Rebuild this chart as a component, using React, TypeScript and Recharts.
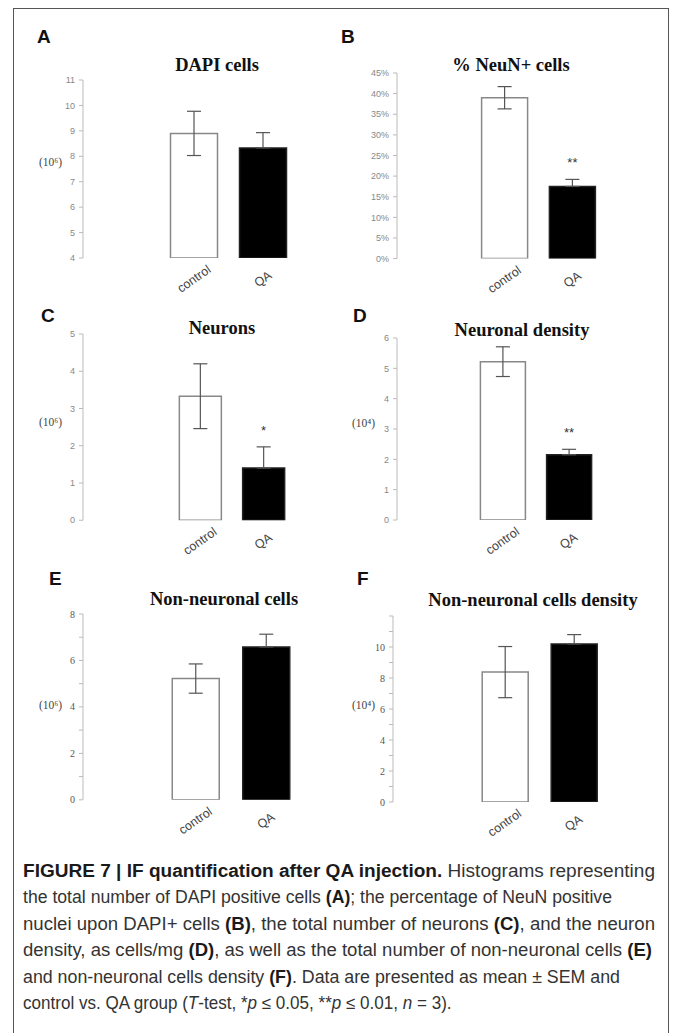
import React from "react";
import { BarChart, Bar, XAxis, YAxis, ErrorBar, Cell, LabelList } from "recharts";

const groups = ["control", "QA"];

const dapiMean = [8.9, 8.33];
const dapiSem = [0.87, 0.6];
const dapiTicks = [4, 5, 6, 7, 8, 9, 10, 11];

const neunMean = [39, 17.5];
const neunSem = [2.7, 1.7];
const neunTicks = [0, 5, 10, 15, 20, 25, 30, 35, 40, 45];

const neuronsMean = [3.33, 1.4];
const neuronsSem = [0.87, 0.57];
const neuronsTicks = [0, 1, 2, 3, 4, 5];

const densityMean = [5.22, 2.15];
const densitySem = [0.49, 0.18];
const densityTicks = [0, 1, 2, 3, 4, 5, 6];

const nonNeuronalMean = [5.22, 6.58];
const nonNeuronalSem = [0.63, 0.55];
const nonNeuronalTicks = [0, 1, 2, 3, 4, 5, 6, 7, 8];

const nonNeuronalDensityMean = [8.38, 10.2];
const nonNeuronalDensitySem = [1.65, 0.6];
const nonNeuronalDensityTicks = [0, 1, 2, 3, 4, 5, 6, 7, 8, 9, 10, 11, 12];

const noSig = ["", ""];
const sigOne = ["", "*"];
const sigTwo = ["", "**"];

const SANS = "'Liberation Sans', Arial, sans-serif";
const SERIF = "'Liberation Serif', 'Times New Roman', serif";

const plain = (v: number) => String(v);
const percent = (v: number) => `${v}%`;
const evenOnly = (max: number) => (v: number) => (v % 2 === 0 && v <= max ? String(v) : "");

// page geometry of each panel (pixels)
const panels = [
  {
    letter: "A", title: "DAPI cells", unit: "(10⁶)",
    mean: dapiMean, sem: dapiSem, sig: noSig, domain: [4, 11], ticks: dapiTicks, format: plain, serif: false,
    axisX: 83, yTop: 80, yBottom: 258, c1: 194, c2: 263, barSize: 47,
    letterAt: [37, 43], titleAt: [217, 71], unitAt: [39, 162],
  },
  {
    letter: "B", title: "% NeuN+ cells", unit: "",
    mean: neunMean, sem: neunSem, sig: sigTwo, domain: [0, 45], ticks: neunTicks, format: percent, serif: false,
    axisX: 397, yTop: 72.7, yBottom: 258.3, c1: 504.5, c2: 572.3, barSize: 46,
    letterAt: [341, 43], titleAt: [511, 71], unitAt: [0, 0],
  },
  {
    letter: "C", title: "Neurons", unit: "(10⁶)",
    mean: neuronsMean, sem: neuronsSem, sig: sigOne, domain: [0, 5], ticks: neuronsTicks, format: plain, serif: false,
    axisX: 83, yTop: 333.75, yBottom: 520, c1: 200, c2: 263.3, barSize: 42,
    letterAt: [41, 322], titleAt: [222, 334], unitAt: [39, 422],
  },
  {
    letter: "D", title: "Neuronal density", unit: "(10⁴)",
    mean: densityMean, sem: densitySem, sig: sigTwo, domain: [0, 6], ticks: densityTicks, format: plain, serif: false,
    axisX: 397, yTop: 338, yBottom: 520, c1: 502.5, c2: 568.7, barSize: 45,
    letterAt: [353, 322], titleAt: [522, 336], unitAt: [352, 423],
  },
  {
    letter: "E", title: "Non-neuronal cells", unit: "(10⁶)",
    mean: nonNeuronalMean, sem: nonNeuronalSem, sig: noSig, domain: [0, 8], ticks: nonNeuronalTicks, format: evenOnly(8), serif: true,
    axisX: 83, yTop: 613.5, yBottom: 799.3, c1: 195.5, c2: 266, barSize: 47,
    letterAt: [49, 585], titleAt: [224, 605], unitAt: [39, 705],
  },
  {
    letter: "F", title: "Non-neuronal cells density", unit: "(10⁴)",
    mean: nonNeuronalDensityMean, sem: nonNeuronalDensitySem, sig: noSig, domain: [0, 12], ticks: nonNeuronalDensityTicks, format: evenOnly(10), serif: true,
    axisX: 393, yTop: 616.3, yBottom: 802.3, c1: 504.7, c2: 573.7, barSize: 46,
    letterAt: [357, 585], titleAt: [533, 606], unitAt: [352, 705],
  },
];

const YW = 40; // y axis width
const MT = 10; // top margin
const XH = 45; // x axis height
const PW = 250; // plot width

function GroupTick({ x, y, payload }: any) {
  const cy = y + 21;
  return (
    <text
      x={x}
      y={cy}
      textAnchor="middle"
      dominantBaseline="central"
      transform={`rotate(-35 ${x} ${cy})`}
      fontSize={12.5}
      fill="#444"
      fontFamily={SANS}
    >
      {payload.value}
    </text>
  );
}

function Panel({ p }: { p: (typeof panels)[number] }) {
  // the lower whisker of the black bar is hidden in the figure, so only the upper half is drawn
  const data = groups.map((g, i) => ({
    name: g,
    value: p.mean[i],
    sem: p.sem[i],
    err: i === 0 ? p.sem[i] : [0, p.sem[i]],
    sig: p.sig[i],
  }));
  const plotH = p.yBottom - p.yTop;
  const pxPerUnit = plotH / (p.domain[1] - p.domain[0]);
  const d = p.c2 - p.c1;
  const padLeft = p.c1 - p.axisX - d / 2;
  const padRight = PW - padLeft - 2 * d;

  const renderSig = (props: any) => {
    const { x, y, width, index, value } = props;
    if (!value) return null;
    const errPx = (data[index]?.sem ?? 0) * pxPerUnit;
    return (
      <text x={x + width / 2} y={y - errPx - 12} textAnchor="middle" fontSize={13} fill="#333" fontFamily={SANS}>
        {value}
      </text>
    );
  };

  return (
    <div style={{ position: "absolute", left: p.axisX - YW, top: p.yTop - MT }}>
      <BarChart
        width={YW + PW + 5}
        height={MT + plotH + XH}
        data={data}
        margin={{ top: MT, right: 5, bottom: 0, left: 0 }}
      >
        <XAxis
          dataKey="name"
          axisLine={false}
          tickLine={false}
          tickSize={0}
          tickMargin={0}
          height={XH}
          interval={0}
          padding={{ left: padLeft, right: padRight }}
          tick={<GroupTick />}
        />
        <YAxis
          width={YW}
          domain={p.domain}
          ticks={p.ticks}
          interval={0}
          allowDataOverflow
          tickFormatter={p.format}
          axisLine={{ stroke: "#bbb" }}
          tickLine={{ stroke: "#bbb" }}
          tickSize={4}
          tickMargin={4}
          tick={{
            fontSize: p.serif ? 10 : 9,
            fill: p.serif ? "#555" : "#888",
            fontFamily: p.serif ? SERIF : SANS,
          }}
        />
        <Bar dataKey="value" barSize={p.barSize} isAnimationActive={false}>
          {data.map((_, i) => (
            <Cell key={i} fill={i === 0 ? "#fff" : "#000"} stroke={i === 0 ? "#888" : "#222"} strokeWidth={1.5} />
          ))}
          <ErrorBar dataKey="err" width={7} stroke="#555" strokeWidth={1.2} />
          <LabelList dataKey="sig" content={renderSig} />
        </Bar>
      </BarChart>
    </div>
  );
}

type Seg = [string, "" | "b" | "i"];

// width: stretch the line to this many pixels; scale: squeeze the line instead (used where italics sit)
const captionLines: { segs: Seg[]; width?: number; scale?: number }[] = [
  { segs: [["FIGURE 7 | IF quantification after QA injection.", "b"], [" Histograms representing", ""]], width: 632 },
  { segs: [["the total number of DAPI positive cells ", ""], ["(A)", "b"], ["; the percentage of NeuN positive", ""]], width: 589 },
  {
    segs: [["nuclei upon DAPI+ cells ", ""], ["(B)", "b"], [", the total number of neurons ", ""], ["(C)", "b"], [", and the neuron", ""]],
    width: 632,
  },
  {
    segs: [["density, as cells/mg ", ""], ["(D)", "b"], [", as well as the total number of non-neuronal cells ", ""], ["(E)", "b"]],
    width: 629,
  },
  { segs: [["and non-neuronal cells density ", ""], ["(F)", "b"], [". Data are presented as mean ± SEM and", ""]], width: 597 },
  {
    segs: [
      ["control vs. QA group (", ""], ["T", "i"], ["-test, *", ""], ["p", "i"], [" ≤ 0.05, **", ""], ["p", "i"],
      [" ≤ 0.01, ", ""], ["n", "i"], [" = 3).", ""],
    ],
    scale: 0.975,
  },
];

export default function App() {
  return (
    <div style={{ position: "absolute", left: 0, top: 0, width: 675, height: 1033, overflow: "hidden", background: "#fff" }}>
      <div
        style={{
          position: "absolute", left: 13, top: 8, width: 656, height: 1025, boxSizing: "border-box",
          border: "1.5px solid #555", borderBottom: "none",
        }}
      />
      <svg width={675} height={1033} style={{ position: "absolute", left: 0, top: 0 }}>
        {panels.map((p) => (
          <g key={p.letter}>
            <text x={p.letterAt[0]} y={p.letterAt[1]} fontSize={19} fontWeight="bold" fill="#111" fontFamily={SANS}>
              {p.letter}
            </text>
            <text x={p.titleAt[0]} y={p.titleAt[1]} textAnchor="middle" fontSize={18.5} fontWeight="bold" fill="#111" fontFamily={SERIF}>
              {p.title}
            </text>
            {p.unit && (
              <text x={p.unitAt[0]} y={p.unitAt[1]} dominantBaseline="central" fontSize={11.5} fill="#444" fontFamily={SERIF}>
                {p.unit}
              </text>
            )}
          </g>
        ))}
        {captionLines.map((line, k) => {
          const y = 877 + k * 26.4;
          const spans = line.segs.map(([t, s], j) => (
            <tspan
              key={j}
              fontWeight={s === "b" ? "bold" : "normal"}
              fontStyle={s === "i" ? "italic" : "normal"}
              fill={s === "b" ? "#1a1a1a" : "#333"}
            >
              {t}
            </tspan>
          ));
          const common = {
            fontSize: 17.5,
            fill: "#333",
            fontFamily: "'Liberation Sans Narrow', 'Liberation Sans', Arial, sans-serif",
          };
          return line.width ? (
            <text key={k} x={23} y={y} {...common} textLength={line.width} lengthAdjust="spacingAndGlyphs">
              {spans}
            </text>
          ) : (
            <text key={k} x={0} y={0} {...common} transform={`translate(23 ${y}) scale(${line.scale} 1)`}>
              {spans}
            </text>
          );
        })}
      </svg>
      {panels.map((p) => (
        <Panel key={p.letter} p={p} />
      ))}
    </div>
  );
}
